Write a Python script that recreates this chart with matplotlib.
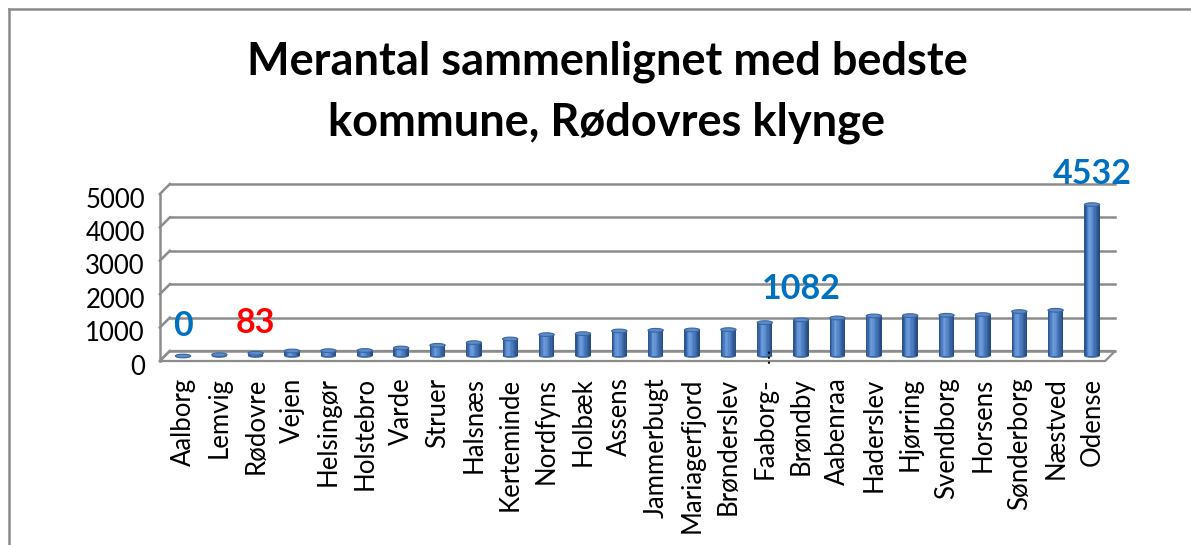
import numpy as np
import matplotlib.pyplot as plt
from matplotlib.patches import Ellipse, Polygon
from matplotlib.lines import Line2D

kommuner = ['Aalborg', 'Lemvig', 'Rødovre', 'Vejen', 'Helsingør', 'Holstebro', 'Varde',
            'Struer', 'Halsnæs', 'Kerteminde', 'Nordfyns', 'Holbæk', 'Assens', 'Jammerbugt',
            'Mariagerfjord', 'Brønderslev', 'Faaborg-', 'Brøndby', 'Aabenraa', 'Haderslev',
            'Hjørring', 'Svendborg', 'Horsens', 'Sønderborg', 'Næstved', 'Odense']
merantal = [0, 40, 83, 150, 160, 165, 240, 320, 400, 510, 640, 670, 750, 770,
            780, 790, 1000, 1082, 1140, 1200, 1210, 1220, 1240, 1330, 1370, 4532]
y_ticks = [0, 1000, 2000, 3000, 4000, 5000]
# data labels shown in the chart: index -> colour
labels_shown = {0: '#0070C0', 2: '#FF0000', 17: '#0070C0', 25: '#0070C0'}

W, H = 1191, 545
fig = plt.figure(figsize=(W / 100, H / 100), dpi=100)

# pixel layout of the bar plane
px_per_cat = 36.36
px_per_val = 0.0334
x0_px, y0_px = 183, 356
xlim = (-1.0, 26.5)
ylim = (-600, 6000)
left = (x0_px + xlim[0] * px_per_cat) / W
width = (xlim[1] - xlim[0]) * px_per_cat / W
bottom = (H - (y0_px - ylim[0] * px_per_val)) / H
height = (ylim[1] - ylim[0]) * px_per_val / H
ax = fig.add_axes([left, bottom, width, height])
ax.set_xlim(*xlim)
ax.set_ylim(*ylim)
for s in ax.spines.values():
    s.set_visible(False)

# depth offset (half depth) in data units
ddx = 5 / px_per_cat
ddy = 5 / px_per_val
grid_c = '#8C8C8C'
x_lo, x_hi = -0.5, 25.5

# floor
floor = Polygon([(x_lo - ddx, -ddy), (x_hi - ddx, -ddy), (x_hi + ddx, ddy), (x_lo + ddx, ddy)],
                closed=True, facecolor='white', edgecolor=grid_c, lw=1.6, zorder=1)
ax.add_patch(floor)

# back wall gridlines and left wall diagonals
for v in y_ticks:
    ax.plot([x_lo + ddx, x_hi + ddx], [v + ddy, v + ddy], color=grid_c, lw=1.8, zorder=1)
    ax.plot([x_lo - ddx, x_lo + ddx], [v - ddy, v + ddy], color=grid_c, lw=1.8, zorder=1)
ax.plot([x_lo - ddx, x_lo - ddx], [-ddy, 5000 - ddy], color=grid_c, lw=1.8, zorder=1)

# y tick labels (front plane)
for v in y_ticks:
    ax.text(-1.05, v - 330, str(v), ha='right', va='center', fontsize=18.5,
            family='Lato', color='black')

# cylinder bars, drawn as strips for shading
x = np.arange(len(kommuner))
bw = 0.42
shade = ['#2D5690', '#3A68A6', '#4C7DC0', '#6393D3', '#6C9BDA', '#6493D3', '#5587C9',
         '#4A7BBE', '#416FB0', '#3863A1', '#305890', '#294D80']
n = len(shade)
for k, c in enumerate(shade):
    off = -bw / 2 + (k + 0.5) * bw / n
    ax.bar(x + off, merantal, width=bw / n + 0.004, color=c, lw=0, zorder=3)
for xi, v in zip(x, merantal):
    ax.add_patch(Ellipse((xi, 0), bw, 110, facecolor='#3A68A6', edgecolor='none', zorder=2.9))
    ax.add_patch(Ellipse((xi, v), bw, 110, facecolor='#5D8CCB', edgecolor='#3B66A0',
                         lw=0.8, zorder=4))

# data labels
for i, c in labels_shown.items():
    ax.text(i, merantal[i] + 910, str(merantal[i]), ha='center', va='center',
            fontsize=24.5, fontweight='bold', family='Lato', color=c, zorder=5)

ax.set_xticks(x)
ax.set_xticklabels(kommuner, rotation=90, fontsize=18.5, family='Lato', va='top', ha='center')
ax.tick_params(axis='x', length=0, pad=1)
ax.set_yticks([])
ax.text(16, -ddy - 60, '…', rotation=90, ha='center', va='bottom', fontsize=14,
        family='Lato', color='black')

# chart title
fig.text(607 / W, 1 - 62 / H, 'Merantal sammenlignet med bedste', ha='center', va='center',
         fontsize=32.5, fontweight='bold', family='Lato')
fig.text(607 / W, 1 - 123 / H, 'kommune, Rødovres klynge', ha='center', va='center',
         fontsize=32.5, fontweight='bold', family='Lato')

# chart frame
fig.add_artist(Line2D([8.5 / W, 1.0], [1 - 8.5 / H, 1 - 8.5 / H], color='#8A8A8A', lw=1.8))
fig.add_artist(Line2D([8.5 / W, 8.5 / W], [0, 1 - 8.5 / H], color='#8A8A8A', lw=1.8))

fig.savefig('out.png', dpi=100)
